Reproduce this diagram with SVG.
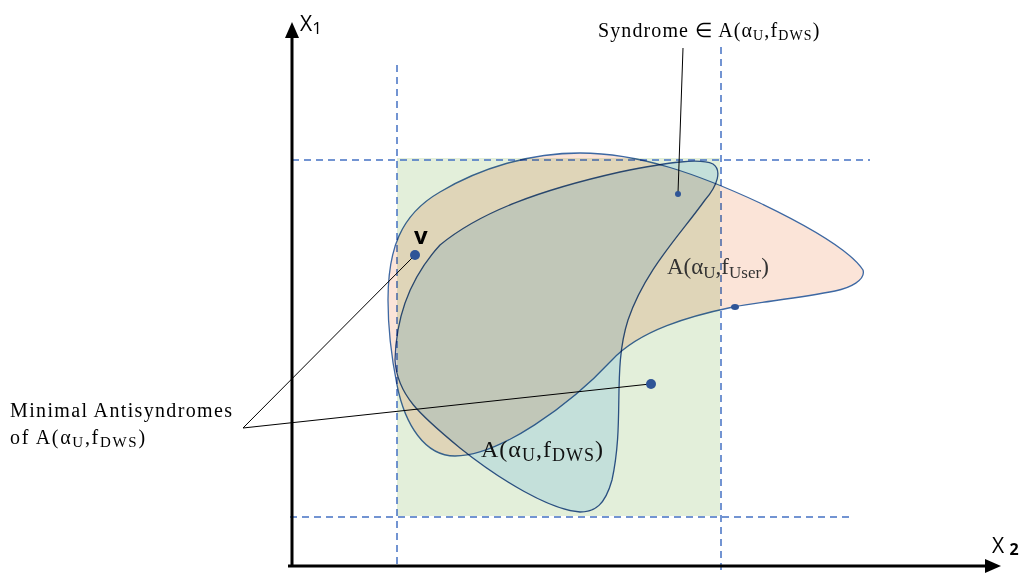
<svg xmlns="http://www.w3.org/2000/svg" width="1023" height="576" viewBox="0 0 1023 576">
<style>
.dash{stroke:#4472c4;stroke-width:1.5;stroke-dasharray:7 5;fill:none}
.axis{stroke:#000;stroke-width:3;fill:none}
.lead{stroke:#000;stroke-width:1;fill:none}
.serif{font-family:"Liberation Serif","Times New Roman",serif}
.sans{font-family:"Open Sans","Liberation Sans",sans-serif}
.dot{fill:#2f5597}
.mul{mix-blend-mode:multiply}
</style>
<rect width="1023" height="576" fill="#fff"/>
<g id="region">
<rect x="397" y="158" width="323" height="358" fill="#e3efda"/>
</g>
<g id="grid">
<line class="dash" x1="397" y1="65" x2="397" y2="566"/>
<line class="dash" x1="721" y1="47" x2="721" y2="570"/>
<line class="dash" x1="292" y1="160" x2="870" y2="160"/>
<line class="dash" x1="290" y1="517" x2="853" y2="517"/>
</g>
<g id="user-set">
<path class="mul" d="M 388,300 C 388,250 400,215 440,192 C 480,168 530,153 580,153 C 640,153 700,175 760,203 C 810,227 850,250 863,270 C 866,280 850,288 835,291 C 800,298 760,302 733,307 C 690,316 640,330 612,360 C 570,405 500,456 455,456 C 425,456 405,425 397,385 C 391,355 388,330 388,300 Z" fill="#fbe4d8" stroke="#3d68a3" stroke-width="1.3"/>
</g>
<g id="dws-set">
<path class="mul" d="M 395,360 C 396,320 408,280 440,245 C 480,212 540,190 620,172 C 670,162 700,158 713,164 C 722,170 718,185 705,200 C 680,235 645,270 628,320 C 612,370 625,420 612,480 C 605,505 595,512 580,512 C 550,510 500,480 460,448 C 420,415 397,395 395,360 Z" fill="#ddefff" stroke="#2f5597" stroke-width="1.3"/>
</g>
<g id="connectors">
<line class="lead" x1="683" y1="48" x2="678" y2="193"/>
<line class="lead" x1="243" y1="428" x2="413" y2="257"/>
<line class="lead" x1="243" y1="428" x2="650" y2="384"/>
</g>
<g id="points">
<circle class="dot" cx="678" cy="194" r="3"/>
<circle class="dot" cx="415" cy="255" r="5"/>
<circle class="dot" cx="651" cy="384" r="5"/>
<ellipse class="dot" cx="735" cy="307" rx="4" ry="3"/>
</g>
<g id="axes">
<line class="axis" x1="292" y1="566" x2="292" y2="36"/>
<polygon points="292,22 285,38 299,38" fill="#000"/>
<line class="axis" x1="288" y1="566" x2="986" y2="566"/>
<polygon points="1001,566 985,559 985,573" fill="#000"/>
</g>
<g id="labels">
<text class="sans" x="300" y="31" font-size="21">X<tspan font-size="17" dy="3">1</tspan></text>
<text class="sans" x="992" y="553" font-size="21">X <tspan font-size="16" font-weight="bold" dy="2">2</tspan></text>
<text class="sans" x="414" y="244" font-size="24" font-weight="bold">v</text>
<text class="serif" x="598" y="37" font-size="20" letter-spacing="1.1">Syndrome ∈ A(α<tspan font-size="14" dy="3">U</tspan><tspan dy="-3">,f</tspan><tspan font-size="14" dy="3">DWS</tspan><tspan dy="-3">)</tspan></text>
<text class="serif" x="10" y="417" font-size="20" textLength="222" lengthAdjust="spacing">Minimal Antisyndromes</text>
<text class="serif" x="10" y="444" font-size="20" letter-spacing="1.7">of A(α<tspan font-size="15" dy="3">U</tspan><tspan dy="-3">,f</tspan><tspan font-size="15" dy="3">DWS</tspan><tspan dy="-3">)</tspan></text>
<text class="serif" x="667" y="274" font-size="23" fill="#333">A(α<tspan font-size="17" dy="4">U</tspan><tspan dy="-4">,f</tspan><tspan font-size="17" dy="4">User</tspan><tspan dy="-4">)</tspan></text>
<text class="serif" x="481" y="457" font-size="24" fill="#111" letter-spacing="1">A(α<tspan font-size="18" dy="4">U</tspan><tspan dy="-4">,f</tspan><tspan font-size="18" dy="4">DWS</tspan><tspan dy="-4">)</tspan></text>
</g>
</svg>
